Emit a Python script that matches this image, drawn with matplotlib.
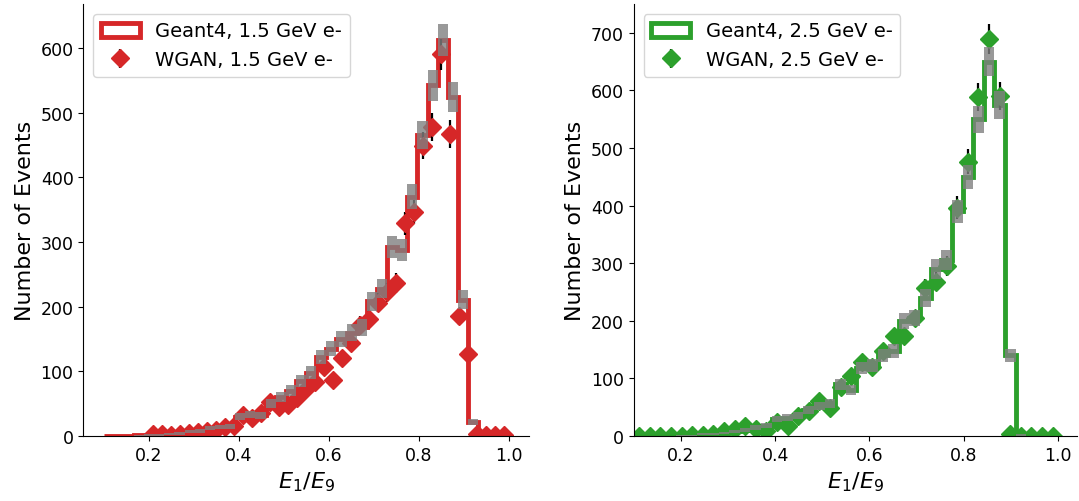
import numpy as np
import matplotlib
matplotlib.use("Agg")
import matplotlib.pyplot as plt

# Binning
g4_edges = np.linspace(0.1, 1.0, 41)          # Geant4 histograms, 40 bins
wgan_edges_15 = np.linspace(0.1, 1.0, 46)     # WGAN 1.5 GeV, 45 bins
wgan_edges_25 = np.linspace(0.1, 1.0, 41)     # WGAN 2.5 GeV, 40 bins

# 1.5 GeV electrons
g4_15 = [0, 0, 0, 1, 2, 2, 3, 4, 7, 8,
         12, 14, 15, 30, 33, 32, 50, 60, 70, 85,
         98, 122, 135, 150, 160, 168, 208, 228, 292, 288,
         370, 466, 542, 612, 524, 211, 21, 0, 0, 0]
wgan_15 = [np.nan, np.nan, np.nan, np.nan, np.nan, 3, 3, 2, 3, 4,
           6, 8, 10, 14, 16, 33, 28, 35, 52, 45,
           48, 58, 72, 84, 106, 86, 121, 144, 172, 181,
           206, 222, 237, 329, 347, 449, 478, 590, 467, 185,
           127, 3, 2, 2, 1]

# 2.5 GeV electrons
g4_25 = [0, 0, 0, 0, 1, 1, 3, 4, 5, 8,
         10, 15, 18, 30, 32, 35, 45, 52, 57, 90,
         80, 118, 122, 140, 148, 200, 205, 240, 290, 305,
         390, 450, 550, 650, 575, 140, 2, 0, 0, 0]
wgan_25 = [0, 0, 0, 0, 0, 1, 1, 3, 9, 12,
           18, 12, 9, 24, 18, 35, 44, 61, 48, 85,
           104, 128, 120, 147, 173, 173, 205, 257, 268, 295,
           396, 476, 588, 689, 591, 3, 0, 0, 0, 0]

panels = [
    dict(g4=g4_15, wgan=wgan_15, wedges=wgan_edges_15, color="#d62728",
         label="1.5 GeV e-", xlim=(0.055, 1.045), ylim=(0, 668),
         yticks=range(0, 601, 100)),
    dict(g4=g4_25, wgan=wgan_25, wedges=wgan_edges_25, color="#2ca02c",
         label="2.5 GeV e-", xlim=(0.1, 1.04), ylim=(0, 750),
         yticks=range(0, 701, 100)),
]

fig = plt.figure(figsize=(10.79, 5.02), dpi=100)
W, H = 1079.0, 502.0
rects = [
    [83.3 / W, 65 / H, 445.5 / W, 432 / H],
    [633.8 / W, 65 / H, 443.0 / W, 432 / H],
]

for rect, p in zip(rects, panels):
    ax = fig.add_axes(rect)
    g4 = np.asarray(p["g4"], dtype=float)
    wg = np.asarray(p["wgan"], dtype=float)
    gc = 0.5 * (g4_edges[:-1] + g4_edges[1:])
    wc = 0.5 * (p["wedges"][:-1] + p["wedges"][1:])
    gw = g4_edges[1] - g4_edges[0]

    ax.hist(gc, bins=g4_edges, weights=g4, histtype="step",
            color=p["color"], linewidth=3.5, zorder=1,
            label="Geant4, " + p["label"])
    ax.errorbar(wc, wg, yerr=np.sqrt(wg), fmt="D", color=p["color"],
                ms=9, ecolor="black", elinewidth=1.6, zorder=2,
                label="WGAN, " + p["label"])
    g4_err = np.sqrt(g4)
    ax.bar(gc, 2 * g4_err, bottom=g4 - g4_err, width=gw,
           color="gray", alpha=0.8, linewidth=0, zorder=3)

    ax.set_xlim(*p["xlim"])
    ax.set_ylim(*p["ylim"])
    ax.set_yticks(list(p["yticks"]))
    ax.set_xticks([0.2, 0.4, 0.6, 0.8, 1.0])
    ax.tick_params(labelsize=12.5)
    for s in ("top", "right"):
        ax.spines[s].set_visible(False)
    ax.set_xlabel("$E_1/E_9$", fontsize=16)
    ax.set_ylabel("Number of Events", fontsize=16)
    ax.legend(loc="upper left", fontsize=14)

fig.savefig("out.png", dpi=100)
